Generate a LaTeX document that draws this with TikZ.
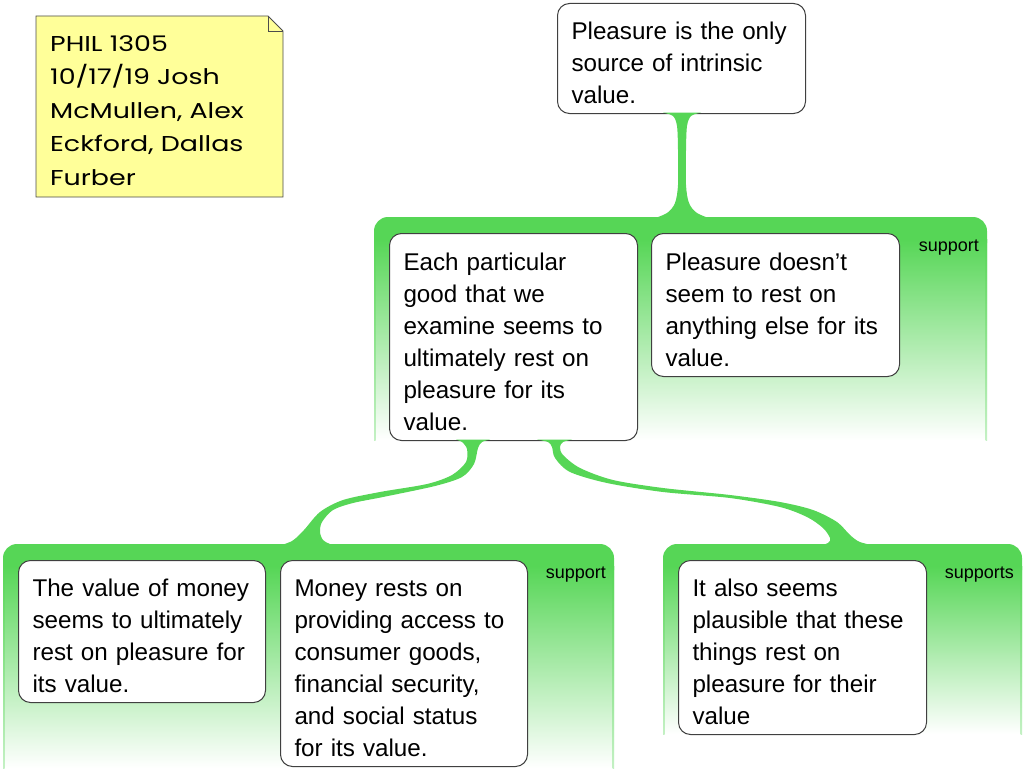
\documentclass[tikz,border=0pt]{standalone}
\usepackage{fontspec}
\setmainfont{Liberation Sans}
\newfontfamily\notefont{Poppins}[FakeStretch=1.25]
\definecolor{G}{RGB}{86,214,86}
\definecolor{noteY}{RGB}{255,255,153}
\newcommand{\fl}{\rule{0pt}{27pt}}
\begin{document}
\begin{tikzpicture}[x=1pt,y=-1pt,
  claim/.style={draw=black!75, line width=1pt, fill=white, rounded corners=12pt,
    anchor=north west, align=left, text width=220pt, inner xsep=14pt, inner ysep=0pt,
    font=\fontsize{24.2}{32}\selectfont},
  lbl/.style={font=\fontsize{18}{20}\selectfont, anchor=base east, inner sep=0pt},
  stem/.style={fill=G},
]
\useasboundingbox (0,0) rectangle (1024,768);

% groups
\newcommand{\grp}[4]{%
  \fill[G, rounded corners=14pt] (#1,#3) rectangle (#2,#3+40);
  \shade[top color=G, bottom color=white] (#1,#3+22) rectangle (#2,#4);
  \shade[top color=G, bottom color=G!35] (#1,#3+22) rectangle (#1+1.5,#4);
  \shade[top color=G, bottom color=G!35] (#2-1.5,#3+22) rectangle (#2,#4);
}
\grp{374}{987}{217}{440}
\grp{3}{614}{544}{768}
\grp{663}{1022}{544}{734}

% note
\fill[noteY] (36,16) -- (268,16) -- (283,31) -- (283,197) -- (36,197) -- cycle;
\draw[black!70, line width=0.9pt] (36,16) -- (268,16) -- (283,31) -- (283,197) -- (36,197) -- cycle;
\draw[black!70, line width=0.9pt] (268,16) -- (268,31) -- (283,31);
\node[anchor=north west, align=left, inner sep=0pt,
  font=\notefont\fontsize{21.5}{33.4}\selectfont] (note) at (50,35.5)
  {PHIL 1305\\10/17/19 Josh\\McMullen, Alex\\Eckford, Dallas\\Furber};

% claims
\node[claim, minimum height=110pt] (top) at (557,3) {\fl Pleasure is the only\\source of intrinsic\\value.};
\node[claim, minimum height=207pt] (A) at (389,233) {\fl Each particular\\good that we\\examine seems to\\ultimately rest on\\pleasure for its\\value.};
\node[claim, minimum height=143pt] (B) at (651,233) {\fl Pleasure doesn’t\\seem to rest on\\anything else for its\\value.};
\node[claim, minimum height=142pt, text width=219pt] (C) at (18,560) {\fl The value of money\\seems to ultimately\\rest on pleasure for\\its value.};
\node[claim, minimum height=206pt, text width=219pt] (D) at (280,560) {\fl Money rests on\\providing access to\\consumer goods,\\financial security,\\and social status\\for its value.};
\node[claim, minimum height=174pt] (E) at (678,560) {\fl It also seems\\plausible that these\\things rest on\\pleasure for their\\value};

% labels
\node[lbl] (l1) at (979,251) {support};
\node[lbl] (l2) at (606,578) {support};
\node[lbl] (l3) at (1014,578) {supports};

% stems
\fill[stem] plot[smooth, tension=0.5] coordinates {(663,112.6) (673,116) (677,126) (678,150) (678,185) (675,203) (667,213) (650,220)}
  -- plot[smooth, tension=0.5] coordinates {(714,220) (697,213) (689,203) (686,185) (686,150) (687,126) (691,116) (701,112.6)} -- cycle;

\fill[stem] plot[smooth, tension=0.5] coordinates {(456,439.6) (462,442) (467,449) (466,462) (452,475) (427,484) (380,492) (343,500) (320,512) (304,530) (292,541) (275,547)}
  -- plot[smooth, tension=0.5] coordinates {(342,547) (330,544) (323,540) (320,532) (322,522) (333,510) (353,503) (383,497) (435,486) (462,477) (474,464) (478,448) (482,442) (490,439.6)} -- cycle;

\fill[stem] plot[smooth, tension=0.5] coordinates {(537,439.6) (548,442) (552,447) (555,458) (570,472) (607,483) (663,492) (730,498) (780,507) (807,517) (823,528) (830,538) (828,543) (815,547)}
  -- plot[smooth, tension=0.5] coordinates {(880,547) (860,542) (850,535) (837,522) (813,510) (780,502) (730,495) (663,488) (613,480) (580,468) (563,455) (560,447) (563,442) (572,439.6)} -- cycle;
\end{tikzpicture}
\end{document}
